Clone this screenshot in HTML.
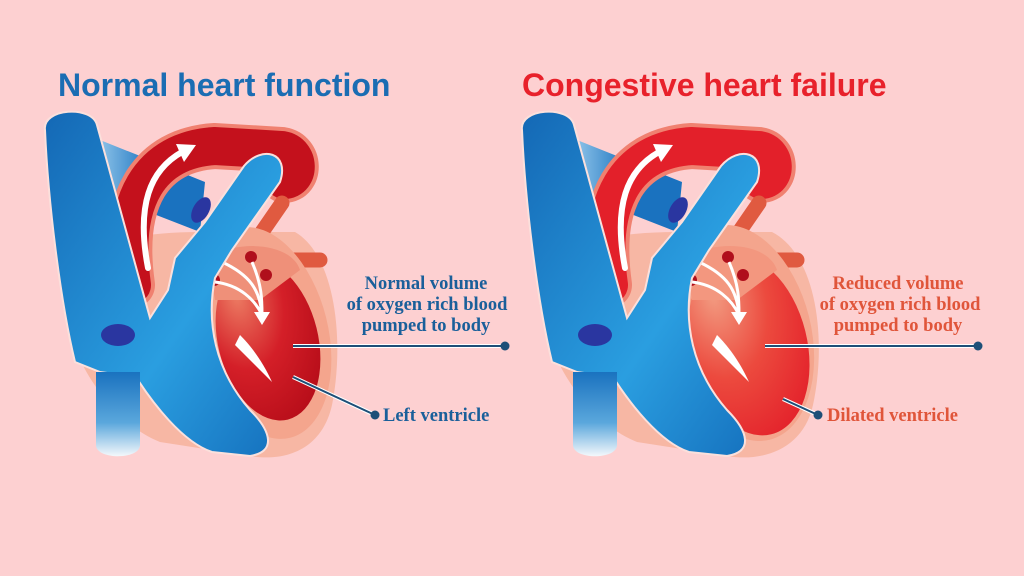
<!DOCTYPE html>
<html><head><meta charset="utf-8"><style>
html,body{margin:0;padding:0;background:#fdd0d1;}
svg{display:block}
.t{font-family:"Liberation Sans",sans-serif;font-weight:bold;font-size:32px}
.l{font-family:"Liberation Serif",serif;font-weight:bold;font-size:18.5px}
</style></head><body>
<svg width="1024" height="576" viewBox="0 0 1024 576">
<defs>
<linearGradient id="bl" x1="0" y1="0" x2="1" y2="1"><stop offset="0" stop-color="#1468b5"/><stop offset="0.6" stop-color="#2a9ee0"/><stop offset="1" stop-color="#1570bd"/></linearGradient>
<linearGradient id="ivc" x1="0" y1="0" x2="0" y2="1"><stop offset="0" stop-color="#1a72bf"/><stop offset="0.6" stop-color="#5aa7dc"/><stop offset="1" stop-color="#f4f8fb"/></linearGradient>
<linearGradient id="pa" x1="0" y1="0" x2="1" y2="0"><stop offset="0" stop-color="#8cc2e8"/><stop offset="0.5" stop-color="#1a72bf"/></linearGradient>
<radialGradient id="lv1" cx="0.3" cy="0.2" r="0.9"><stop offset="0" stop-color="#ec7a62"/><stop offset="0.5" stop-color="#d41f28"/><stop offset="1" stop-color="#b50c18"/></radialGradient>
<radialGradient id="lv2" cx="0.3" cy="0.2" r="0.9"><stop offset="0" stop-color="#f29a80"/><stop offset="0.5" stop-color="#ec4a3e"/><stop offset="1" stop-color="#e3202a"/></radialGradient>
</defs>

<text x="58" y="96" class="t" fill="#1b6db3">Normal heart function</text>
<text x="522" y="96" class="t" fill="#e8212b">Congestive heart failure</text>

<!-- LEFT HEART -->
<g>
<path d="M62,300 C55,250 120,232 200,232 L295,232 C335,255 345,340 332,405 C322,450 285,462 250,456 L160,442 C110,422 70,360 62,300 Z" fill="#f7b7a4"/>
<path d="M100,140 L205,182 L200,232 L105,195 Z" fill="url(#pa)"/>
<path d="M132,285 C120,200 150,150 215,146 L282,150 C300,153 300,180 284,180" fill="none" stroke="#f08170" stroke-width="46" stroke-linecap="round"/>
<path d="M132,285 C120,200 150,150 215,146 L282,150 C300,153 300,180 284,180" fill="none" stroke="#c4111c" stroke-width="38" stroke-linecap="round"/>
<path d="M148,268 C136,205 150,170 182,152" fill="none" stroke="#fff" stroke-width="6" stroke-linecap="round"/>
<polygon points="176,144 196,145 184,162" fill="#fff"/>
<path d="M262,232 L282,203" stroke="#e05a40" stroke-width="15" stroke-linecap="round"/>
<path d="M290,260 L320,260" stroke="#e05a40" stroke-width="15" stroke-linecap="round"/>
<ellipse cx="264" cy="333" rx="64" ry="108" transform="rotate(-14 264 333)" fill="#f4a58d"/>
<ellipse cx="268" cy="340" rx="50" ry="82" transform="rotate(-14 268 340)" fill="url(#lv1)"/>
<path d="M208,260 C230,240 290,240 300,270 L260,300 L215,300 Z" fill="#ef9079"/>
<circle cx="221" cy="256" r="6" fill="#b00f1c"/><circle cx="251" cy="257" r="6" fill="#b00f1c"/><circle cx="266" cy="275" r="6" fill="#b00f1c"/><circle cx="214" cy="280" r="6" fill="#b00f1c"/>
<path d="M222,262 C250,275 260,290 262,315 M252,262 C262,285 262,300 262,315 M215,282 C240,285 255,300 262,315" fill="none" stroke="#fff" stroke-width="3"/>
<polygon points="254,312 270,312 262,325" fill="#fff"/>
<path d="M272,382 C262,360 250,345 240,335 L235,345 Z" fill="#fff"/>
<path d="M45,130 C42,108 92,105 97,125 L150,318 L168,290 L175,258 L205,222 L244,166 C262,145 290,152 280,182 L232,250 L215,278 C206,322 215,370 250,410 C272,432 276,452 250,456 L212,452 C182,442 152,402 136,377 L100,372 L75,362 C60,300 48,200 45,130 Z" fill="url(#bl)" stroke="#fbe0dc" stroke-width="2"/>
<path d="M96,372 L140,372 L140,445 C140,460 96,460 96,445 Z" fill="url(#ivc)"/>
<ellipse cx="201" cy="210" rx="8" ry="14" transform="rotate(30 201 210)" fill="#2a36a0"/>
<ellipse cx="118" cy="335" rx="17" ry="11" fill="#2a36a0"/>
</g>

<!-- RIGHT HEART -->
<g transform="translate(477,0)">
<path d="M62,300 C55,250 120,232 200,232 L295,232 C340,255 350,340 336,405 C326,450 285,462 250,456 L160,442 C110,422 70,360 62,300 Z" fill="#f7b7a4"/>
<path d="M100,140 L205,182 L200,232 L105,195 Z" fill="url(#pa)"/>
<path d="M132,285 C120,200 150,150 215,146 L282,150 C300,153 300,180 284,180" fill="none" stroke="#f08170" stroke-width="46" stroke-linecap="round"/>
<path d="M132,285 C120,200 150,150 215,146 L282,150 C300,153 300,180 284,180" fill="none" stroke="#e3202a" stroke-width="38" stroke-linecap="round"/>
<path d="M148,268 C136,205 150,170 182,152" fill="none" stroke="#fff" stroke-width="6" stroke-linecap="round"/>
<polygon points="176,144 196,145 184,162" fill="#fff"/>
<path d="M262,232 L282,203" stroke="#e05a40" stroke-width="15" stroke-linecap="round"/>
<path d="M290,260 L320,260" stroke="#e05a40" stroke-width="15" stroke-linecap="round"/>
<ellipse cx="266" cy="333" rx="68" ry="110" transform="rotate(-14 266 333)" fill="#f4a58d"/>
<ellipse cx="272" cy="345" rx="58" ry="92" transform="rotate(-14 272 345)" fill="url(#lv2)"/>
<path d="M208,260 C230,240 290,240 300,270 L260,300 L215,300 Z" fill="#f3977f"/>
<circle cx="221" cy="256" r="6" fill="#b00f1c"/><circle cx="251" cy="257" r="6" fill="#b00f1c"/><circle cx="266" cy="275" r="6" fill="#b00f1c"/><circle cx="214" cy="280" r="6" fill="#b00f1c"/>
<path d="M222,262 C250,275 260,290 262,315 M252,262 C262,285 262,300 262,315 M215,282 C240,285 255,300 262,315" fill="none" stroke="#fff" stroke-width="3"/>
<polygon points="254,312 270,312 262,325" fill="#fff"/>
<path d="M272,382 C262,360 250,345 240,335 L235,345 Z" fill="#fff"/>
<path d="M45,130 C42,108 92,105 97,125 L150,318 L168,290 L175,258 L205,222 L244,166 C262,145 290,152 280,182 L232,250 L215,278 C206,322 215,370 250,410 C272,432 276,452 250,456 L212,452 C182,442 152,402 136,377 L100,372 L75,362 C60,300 48,200 45,130 Z" fill="url(#bl)" stroke="#fbe0dc" stroke-width="2"/>
<path d="M96,372 L140,372 L140,445 C140,460 96,460 96,445 Z" fill="url(#ivc)"/>
<ellipse cx="201" cy="210" rx="8" ry="14" transform="rotate(30 201 210)" fill="#2a36a0"/>
<ellipse cx="118" cy="335" rx="17" ry="11" fill="#2a36a0"/>
</g>

<!-- left labels -->
<g class="l" fill="#1a5f9a" text-anchor="middle">
<text x="426" y="289">Normal volume</text>
<text x="427" y="310">of oxygen rich blood</text>
<text x="426" y="331">pumped to body</text>
</g>
<line x1="293" y1="346" x2="505" y2="346" stroke="#fff" stroke-width="4"/>
<line x1="293" y1="346" x2="505" y2="346" stroke="#1d4f78" stroke-width="2"/>
<circle cx="505" cy="346" r="4.5" fill="#1d4f78"/>
<line x1="293" y1="377" x2="375" y2="415" stroke="#fff" stroke-width="4"/>
<line x1="293" y1="377" x2="375" y2="415" stroke="#1d4f78" stroke-width="2"/>
<circle cx="375" cy="415" r="4.5" fill="#1d4f78"/>
<text x="383" y="421" class="l" fill="#1a5f9a">Left ventricle</text>

<!-- right labels -->
<g class="l" fill="#e0553a" text-anchor="middle">
<text x="898" y="289">Reduced volume</text>
<text x="900" y="310">of oxygen rich blood</text>
<text x="898" y="331">pumped to body</text>
</g>
<line x1="765" y1="346" x2="978" y2="346" stroke="#fff" stroke-width="4"/>
<line x1="765" y1="346" x2="978" y2="346" stroke="#1d4f78" stroke-width="2"/>
<circle cx="978" cy="346" r="4.5" fill="#1d4f78"/>
<line x1="783" y1="399" x2="818" y2="415" stroke="#fff" stroke-width="4"/>
<line x1="783" y1="399" x2="818" y2="415" stroke="#1d4f78" stroke-width="2"/>
<circle cx="818" cy="415" r="4.5" fill="#1d4f78"/>
<text x="827" y="421" class="l" fill="#e0553a">Dilated ventricle</text>
</svg>
</body></html>
